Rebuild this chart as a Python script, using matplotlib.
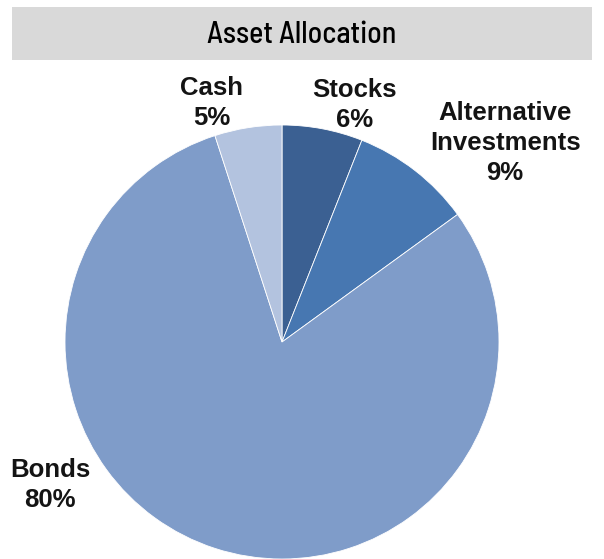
import matplotlib.pyplot as plt
from matplotlib.patches import Rectangle

categories = ["Stocks", "Alternative\nInvestments", "Bonds", "Cash"]
shares = [6, 9, 80, 5]
colors = ["#3b6092", "#4777b1", "#7f9cc9", "#b3c3df"]
# label centres in pie-radius units
label_pos = [(0.336, 1.092), (1.028, 0.917), (-1.069, -0.659), (-0.323, 1.101)]

fig = plt.figure(figsize=(6.04, 5.59), dpi=100)

fig.patches.append(Rectangle((12 / 604, 1 - 60 / 559), 580 / 604, 53 / 559,
                             transform=fig.transFigure, facecolor="#d9d9d9",
                             edgecolor="none", zorder=0))
fig.text(0.5, 1 - 35 / 559, "Asset Allocation", ha="center", va="center",
         fontsize=21.5, fontweight=500,
         family=["Barlow Semi Condensed", "DejaVu Sans"], color="black")

ax = fig.add_axes([65 / 604, 0, 434 / 604, 434 / 559])
ax.pie(shares, colors=colors, startangle=90, counterclock=False, radius=1,
       wedgeprops=dict(edgecolor="white", linewidth=0.6))
ax.set_xlim(-1, 1)
ax.set_ylim(-1, 1)
ax.set_aspect("equal")
ax.axis("off")

for name, val, (x, y) in zip(categories, shares, label_pos):
    ax.text(x, y, f"{name}\n{val}%", ha="center", va="center", fontsize=18.5,
            fontweight="bold", family="Liberation Sans", color="#141414",
            linespacing=1.3, clip_on=False)

fig.savefig("out.png", dpi=100)
